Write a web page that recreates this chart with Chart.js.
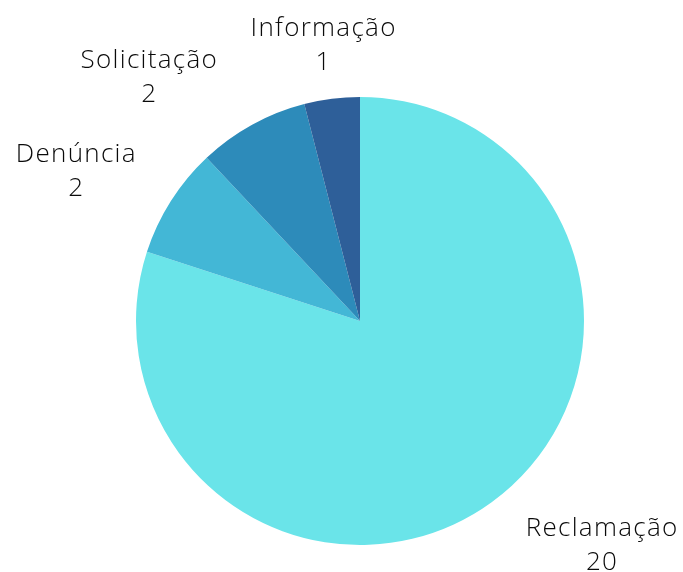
<!DOCTYPE html>
<html>
<head>
<meta charset="utf-8">
<script src="https://cdn.jsdelivr.net/npm/chart.js@4"></script>
<style>
  html, body { margin: 0; padding: 0; background: #fff; }
</style>
</head>
<body>
<canvas id="pie" width="683" height="572"></canvas>
<script>
const categories = ['Reclamação', 'Denúncia', 'Solicitação', 'Informação'];
const values = [20, 2, 2, 1];
const colors = ['#6AE4E9', '#43B7D6', '#2D8BBA', '#2E5F99'];

// draws "name / value" outside each slice, pushed away from the rim
const outsideLabels = {
  id: 'outsideLabels',
  afterDatasetsDraw(chart) {
    const ctx = chart.ctx;
    const meta = chart.getDatasetMeta(0);
    const lineH = 34;
    ctx.save();
    ctx.font = '300 26px "Open Sans", Lato, sans-serif';
    ctx.letterSpacing = '1.3px';
    ctx.fillStyle = '#0a0a0a';
    ctx.textAlign = 'center';
    ctx.textBaseline = 'middle';
    meta.data.forEach((arc, i) => {
      const mid = (arc.startAngle + arc.endAngle) / 2;
      const dx = Math.cos(mid), dy = Math.sin(mid);
      const lines = [categories[i], String(values[i])];
      const w = Math.max(...lines.map(t => ctx.measureText(t).width));
      const h = lineH * lines.length;
      const ex = arc.x + dx * arc.outerRadius;
      const ey = arc.y + dy * arc.outerRadius;
      const f = Math.min(1, Math.pow(Math.abs(dx) / 0.45, 2));
      const cx = ex + Math.sign(dx) * f * (w / 2 + 34);
      const cy = ey + dy * (h / 2 + 20);
      lines.forEach((t, j) => {
        ctx.fillText(t, cx, cy - h / 2 + lineH / 2 + j * lineH);
      });
    });
    ctx.restore();
  }
};

new Chart('pie', {
  type: 'pie',
  data: {
    labels: categories,
    datasets: [{
      data: values,
      backgroundColor: colors,
      borderWidth: 0
    }]
  },
  options: {
    responsive: false,
    animation: false,
    layout: { padding: { top: 97, bottom: 27, left: 136, right: 99 } },
    plugins: {
      legend: { display: false },
      tooltip: { enabled: false }
    }
  },
  plugins: [outsideLabels]
});
</script>
</body>
</html>
